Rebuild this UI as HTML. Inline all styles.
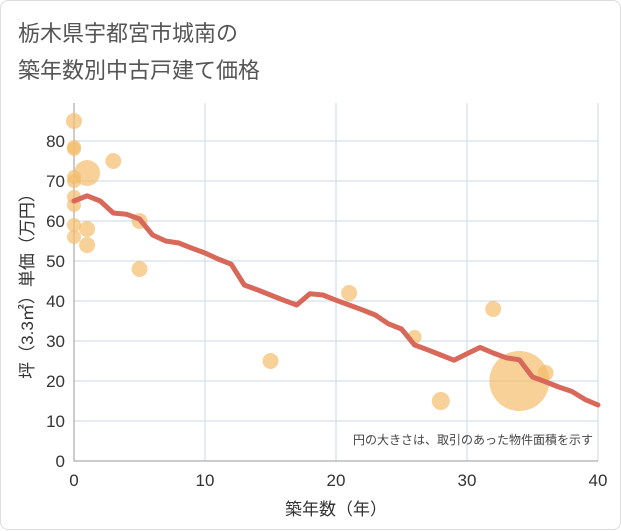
<!DOCTYPE html>
<html><head><meta charset="utf-8"><style>
body{margin:0;background:#fff;font-family:"Liberation Sans","Noto Sans CJK JP",sans-serif;}
#card{position:absolute;left:0;top:0;width:619px;height:528px;border:1px solid #ddd;border-radius:8px;background:#fff;}
</style></head><body>
<div id="card">
<svg id="chart" width="621" height="530" style="position:absolute;left:0;top:0">
<text x="17" y="40" font-size="22" fill="#555" style="font-family:'Liberation Sans','Noto Sans CJK JP',sans-serif">栃木県宇都宮市城南の</text>
<text x="17" y="77" font-size="22" fill="#555" style="font-family:'Liberation Sans','Noto Sans CJK JP',sans-serif">築年数別中古戸建て価格</text>
</svg>
</div>
<script>
const xTicks=[0,10,20,30,40];
const yTicks=[0,10,20,30,40,50,60,70,80];
const bubbleX=[0,0,0,0,0,0,0,0,0,1,1,1,3,5,5,15,21,26,28,32,34,36];
const bubbleY=[85,78.5,78,71,70,66,64,59,56,72,58,54,75,60,48,25,42,31,15,38,20,22];
const bubbleR=[8,7,7,7,7,7,7,7,7,13,8,8,8,8,8,8,8,7,9,8,30,8];
const lineX=[0,1,2,3,4,5,6,7,8,9,10,11,12,13,14,15,16,17,18,19,20,21,22,23,24,25,26,27,28,29,30,31,32,33,34,35,36,37,38,39,40];
const lineY=[65,66.3,65,62,61.7,60.5,56.5,55,54.5,53.2,52,50.5,49.2,44,42.8,41.5,40.2,39,41.8,41.5,40.2,39,37.8,36.5,34.3,33,29,27.8,26.5,25.2,26.8,28.4,27,25.8,25.3,21,19.8,18.5,17.4,15.4,14];
const NS='http://www.w3.org/2000/svg';
const svg=document.getElementById('chart');
const L=73,R=597,T=102,B=460;
const sx=v=>L+(R-L)*v/40, sy=v=>B-(B-100)*v/90;
function mk(t,a){const e=document.createElementNS(NS,t);for(const k in a)e.setAttribute(k,a[k]);svg.appendChild(e);return e;}
const bg=mk('rect',{x:L,y:T,width:R-L,height:B-T,fill:'#fff'});


xTicks.forEach(v=>{const g=mk('line',{x1:sx(v),x2:sx(v),y1:T,y2:B,stroke:'#c9d8e6','stroke-width':1});


const t=mk('text',{x:sx(v),y:485,'font-size':17,fill:'#333','text-anchor':'middle'});t.textContent=v;

});
yTicks.forEach(v=>{const g=mk('line',{x1:L,x2:R,y1:sy(v),y2:sy(v),stroke:'#c9d8e6','stroke-width':1});


const t=mk('text',{x:64,y:sy(v)+6,'font-size':17,fill:'#333','text-anchor':'end'});t.textContent=v;

});
const ax=mk('path',{d:`M${L} ${T}V${B}H${R}`,fill:'none',stroke:'#999','stroke-width':1});


bubbleX.forEach((v,i)=>{const c=mk('circle',{cx:sx(v),cy:sy(bubbleY[i]),r:bubbleR[i],fill:'#f3bd6b','fill-opacity':0.7});

});
const ln=mk('polyline',{points:lineX.map((v,i)=>sx(v)+','+sy(lineY[i])).join(' '),fill:'none',stroke:'#d8695a','stroke-width':5,'stroke-linejoin':'round','stroke-linecap':'round'});


const note=mk('text',{x:592,y:443,'font-size':12,fill:'#444','text-anchor':'end'});note.textContent='円の大きさは、取引のあった物件面積を示す';


const xt=mk('text',{x:sx(20),y:514,'font-size':17,fill:'#333','text-anchor':'middle'});xt.textContent='築年数（年）';


const yt=mk('text',{x:0,y:0,'font-size':17,fill:'#333','text-anchor':'middle',transform:`translate(32,${(T+B)/2}) rotate(-90)`});yt.textContent='坪（3.3㎡）単価（万円）';


</script>
</body></html>
